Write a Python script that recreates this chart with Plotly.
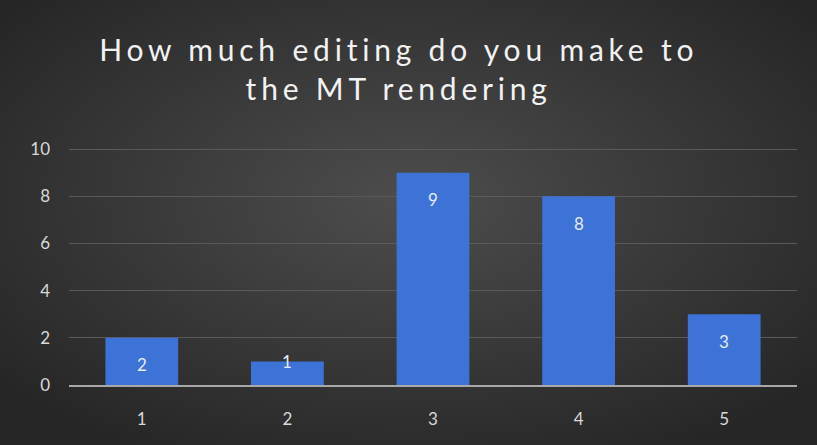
import base64
import plotly.graph_objects as go

categories = ["1", "2", "3", "4", "5"]
values = [2, 1, 9, 8, 3]
y_ticks = [0, 2, 4, 6, 8, 10]
title_lines = ["How much editing do you make to", "the MT rendering"]

bg_svg = (
    '<svg xmlns="http://www.w3.org/2000/svg" width="817" height="445">'
    '<defs><radialGradient id="g" cx="50%" cy="45%" r="65%">'
    '<stop offset="0%" stop-color="#4d4d4d"/>'
    '<stop offset="100%" stop-color="#262626"/>'
    '</radialGradient></defs>'
    '<rect width="817" height="445" fill="url(#g)"/></svg>'
)
bg_uri = "data:image/svg+xml;base64," + base64.b64encode(bg_svg.encode()).decode()

fig = go.Figure()
fig.add_trace(go.Bar(
    x=categories,
    y=values,
    width=0.5,
    marker=dict(color="#3d72d6", line=dict(width=0)),
    hoverinfo="skip",
))

# data labels placed at inside-end of each bar
for i, v in enumerate(values):
    fig.add_annotation(
        x=i, y=v, text=str(v), showarrow=False,
        xref="x", yref="y",
        yanchor="middle",
        yshift=-27 if v >= 2 else 0,
        font=dict(family="Lato", size=17, color="#e6ecf7"),
    )

title_text = "<br>".join(
    f'<span style="letter-spacing:4.8px">{t}</span>' for t in title_lines
)

fig.update_layout(
    width=817,
    height=445,
    paper_bgcolor="#2b2b2b",
    plot_bgcolor="rgba(0,0,0,0)",
    margin=dict(l=69, r=20, t=148, b=60, autoexpand=False),
    showlegend=False,
    title=dict(
        text=title_text,
        x=0.488,
        xanchor="center",
        y=0.862,
        yanchor="top",
        font=dict(family="Lato", size=30, color="#f2f2f2"),
    ),
    images=[dict(
        source=bg_uri,
        xref="paper", yref="paper",
        x=-69 / 728, y=1 + 148 / 237,
        sizex=817 / 728, sizey=445 / 237,
        xanchor="left", yanchor="top",
        sizing="stretch",
        layer="below",
    )],
    xaxis=dict(
        type="category",
        range=[-0.5, 4.5],
        automargin=False,
        showgrid=False,
        showline=True,
        linecolor="#a8a8a8",
        linewidth=2,
        tickfont=dict(family="Lato", size=17, color="#d9d9d9"),
        ticks="",
        ticklabelstandoff=18,
        zeroline=False,
    ),
    yaxis=dict(
        automargin=False,
        range=[0, 10.05],
        tickvals=y_ticks,
        showgrid=True,
        gridcolor="#5a5a5a",
        gridwidth=1,
        zeroline=False,
        showline=False,
        tickfont=dict(family="Lato", size=17, color="#d9d9d9"),
        ticks="",
        ticklabelstandoff=18,
    ),
    bargap=0.5,
)

fig.write_html(
    "out.html",
    config={"displayModeBar": False, "staticPlot": True},
    post_script="document.body.style.margin='0';",
)
